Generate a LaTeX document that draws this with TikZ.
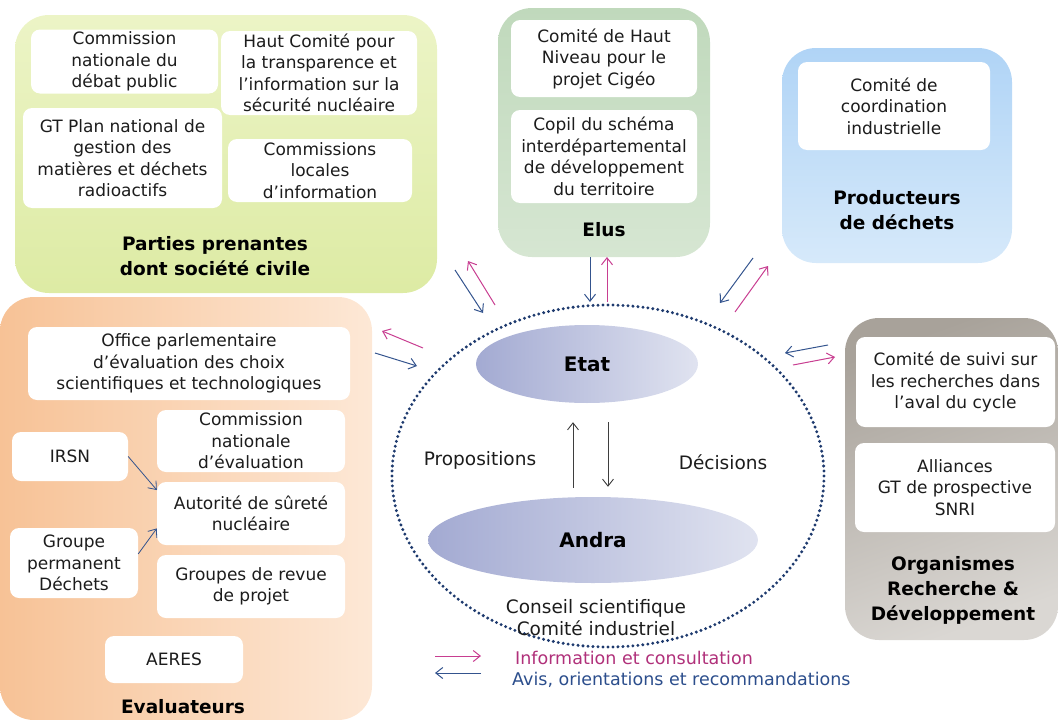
\documentclass[tikz,border=0pt]{standalone}
\usepackage{fontspec}
\setmainfont{DejaVu Sans}
\usepackage{xcolor}
\usetikzlibrary{shapes.geometric,arrows.meta}

\definecolor{ppA}{RGB}{236,244,198}
\definecolor{ppB}{RGB}{221,235,164}
\definecolor{elA}{RGB}{192,217,188}
\definecolor{elB}{RGB}{214,230,210}
\definecolor{prA}{RGB}{176,212,246}
\definecolor{prB}{RGB}{214,233,250}
\definecolor{evA}{RGB}{247,194,150}
\definecolor{evB}{RGB}{253,232,214}
\definecolor{orA}{RGB}{168,162,154}
\definecolor{orB}{RGB}{218,215,211}
\definecolor{lavA}{RGB}{163,170,210}
\definecolor{lavB}{RGB}{224,227,240}
\definecolor{pointille}{RGB}{30,58,110}
\definecolor{infoc}{RGB}{200,62,145}
\definecolor{avisc}{RGB}{52,84,142}
\definecolor{infotxt}{RGB}{176,48,122}
\definecolor{avistxt}{RGB}{44,78,140}
\definecolor{texte}{RGB}{28,28,28}

\begin{document}
\begin{tikzpicture}[x=1pt,y=-1pt,
  groupe/.style={rounded corners=34pt, inner sep=0pt},
  membre/.style={fill=white, rounded corners=9pt, align=center, inner sep=0pt, text=texte,
    font=\fontsize{17}{21.5}\selectfont},
  titre/.style={align=center, inner sep=0pt, font=\bfseries\fontsize{18.5}{25}\selectfont},
  centre/.style={inner sep=0pt, text=texte, font=\fontsize{18.5}{22}\selectfont},
  fleche/.style={draw=texte!85, line width=0.9pt, -{Straight Barb[length=7pt,width=11pt]}},
  info/.style={draw=infoc, line width=1pt, -{Straight Barb[length=7pt,width=11pt]}},
  avis/.style={draw=avisc, line width=1pt, -{Straight Barb[length=7pt,width=11pt]}},
  lavande/.style={ellipse, inner sep=0pt, left color=lavA, right color=lavB,
    font=\bfseries\fontsize{20}{24}\selectfont}]
\useasboundingbox (0,0) rectangle (1058,720);

\node[groupe, minimum width=422pt, minimum height=278pt, top color=ppA, bottom color=ppB] (pp) at (226,154) {};
\node[membre, minimum width=187pt, minimum height=64pt] (cndp) at (124.5,61.5) {Commission\\nationale du\\débat public};
\node[membre, minimum width=196pt, minimum height=84pt] (hct) at (319,73) {Haut Comité pour\\la transparence et\\l’information sur la\\sécurité nucléaire};
\node[membre, minimum width=199pt, minimum height=100pt] (gtpn) at (122.5,158) {GT Plan national de\\gestion des\\matières et déchets\\radioactifs};
\node[membre, minimum width=184pt, minimum height=63pt] (cli) at (320,170.5) {Commissions\\locales\\d’information};
\node[titre] (pptitre) at (215,256) {Parties prenantes\\dont société civile};

\node[groupe, minimum width=212pt, minimum height=249pt, top color=elA, bottom color=elB] (elus) at (604,132.5) {};
\node[membre, minimum width=186pt, minimum height=77pt] (chn) at (604,58.5) {Comité de Haut\\Niveau pour le\\projet Cigéo};
\node[membre, minimum width=186pt, minimum height=93pt] (copil) at (604,156.5) {Copil du schéma\\interdépartemental\\de développement\\du territoire};
\node[titre] (elustitre) at (604,230) {Elus};

\node[groupe, minimum width=230pt, minimum height=215pt, top color=prA, bottom color=prB] (prod) at (897,155.5) {};
\node[membre, minimum width=192pt, minimum height=88pt] (cci) at (894,106) {Comité de\\coordination\\industrielle};
\node[titre] (prodtitre) at (897,210.5) {Producteurs\\de déchets};

\node[groupe, minimum width=372pt, minimum height=423pt, left color=evA, right color=evB] (eval) at (186,508.5) {};
\node[membre, minimum width=322pt, minimum height=73pt] (opecst) at (189,363.5) {Office parlementaire\\d’évaluation des choix\\scientifiques et technologiques};
\node[membre, minimum width=188pt, minimum height=62pt] (cne) at (251,441) {Commission\\nationale\\d’évaluation};
\node[membre, minimum width=116pt, minimum height=49pt] (irsn) at (70,456.5) {IRSN};
\node[membre, minimum width=188pt, minimum height=63pt] (asn) at (251,513.5) {Autorité de sûreté\\nucléaire};
\node[membre, minimum width=128pt, minimum height=70pt] (gpd) at (74,563) {Groupe\\permanent\\Déchets};
\node[membre, minimum width=188pt, minimum height=63pt] (grp) at (251,586.5) {Groupes de revue\\de projet};
\node[membre, minimum width=138pt, minimum height=47pt] (aeres) at (174,659.5) {AERES};
\node[titre] (evaltitre) at (183,707) {Evaluateurs};
\draw[avis, line width=0.8pt] (irsn.east) -- (asn.166);
\draw[avis, line width=0.8pt] (gpd.8) -- (asn.189);

\node[groupe, minimum width=213pt, minimum height=322pt, top color=orA, bottom color=orB, shading angle=20] (org) at (951.5,479) {};
\node[membre, minimum width=199pt, minimum height=90pt] (csr) at (955.5,382) {Comité de suivi sur\\les recherches dans\\l’aval du cycle};
\node[membre, minimum width=200pt, minimum height=89pt] (alli) at (955,487.5) {Alliances\\GT de prospective\\SNRI};
\node[titre] (orgtitre) at (953,590) {Organismes\\Recherche \&\\Développement};

\node[ellipse, draw=pointille, line width=3.3pt, dash pattern=on 0pt off 5pt, line cap=round,
  minimum width=432pt, minimum height=342pt] (cadre) at (608,476) {};
\node[lavande, minimum width=222pt, minimum height=78pt] (etat) at (587,364) {Etat};
\node[lavande, minimum width=330pt, minimum height=86pt] (andra) at (593,540) {Andra};
\draw[fleche] ([xshift=-20pt,yshift=9pt]andra.north) -- ([xshift=-14pt,yshift=-19pt]etat.south);
\draw[fleche] ([xshift=21pt,yshift=-19pt]etat.south) -- ([xshift=15pt,yshift=10pt]andra.north);
\node[centre] (prop) at (480,460) {Propositions};
\node[centre] (deci) at (723,462) {Décisions};
\node[centre, align=center] (conseil) at (596,618) {Conseil scientifique\\Comité industriel};

\coordinate (pp1) at (455,270);
\coordinate (pp2) at (483,313);
\coordinate (pp3) at (495,305);
\coordinate (pp4) at (468,261);
\coordinate (el1) at (590,257);
\coordinate (el2) at (590,302);
\coordinate (el3) at (607,302);
\coordinate (el4) at (607,257);
\coordinate (ev1) at (375,353);
\coordinate (ev2) at (417,366);
\coordinate (ev3) at (423,348);
\coordinate (ev4) at (382,331);
\coordinate (pr1) at (753,258);
\coordinate (pr2) at (720,303);
\coordinate (pr3) at (735,312);
\coordinate (pr4) at (768,266);
\coordinate (or1) at (828,345);
\coordinate (or2) at (785,353);
\coordinate (or3) at (793,365);
\coordinate (or4) at (835,357);
\draw[avis] (pp1) -- (pp2);
\draw[info] (pp3) -- (pp4);
\draw[avis] (el1) -- (el2);
\draw[info] (el3) -- (el4);
\draw[avis] (ev1) -- (ev2);
\draw[info] (ev3) -- (ev4);
\draw[avis] (pr1) -- (pr2);
\draw[info] (pr3) -- (pr4);
\draw[avis] (or1) -- (or2);
\draw[info] (or3) -- (or4);

\coordinate (lg1) at (435,656);
\coordinate (lg2) at (481,656);
\coordinate (lg3) at (481,673);
\coordinate (lg4) at (435,673);
\draw[info] (lg1) -- (lg2);
\draw[avis] (lg3) -- (lg4);
\node[anchor=west, inner sep=0pt, text=infotxt, font=\fontsize{17.5}{21}\selectfont] (leginfo) at (515,658) {Information et consultation};
\node[anchor=west, inner sep=0pt, text=avistxt, font=\fontsize{17.5}{21}\selectfont] (legavis) at (512,680) {Avis, orientations et recommandations};
\end{tikzpicture}
\end{document}
